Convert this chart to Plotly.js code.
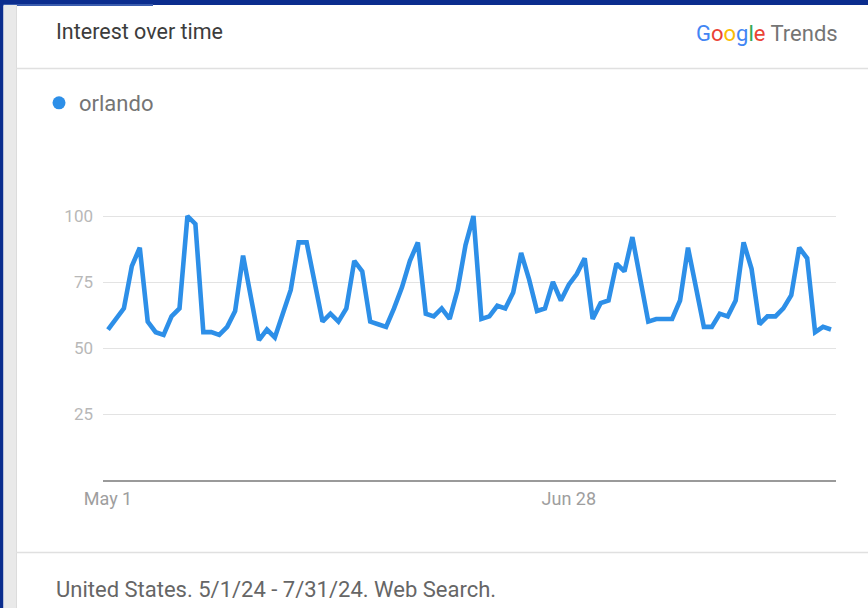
<!DOCTYPE html>
<html><head><meta charset="utf-8">
<script src="https://cdn.plot.ly/plotly-3.0.1.min.js"></script>
<style>html,body{margin:0;padding:0;background:#fff;overflow:hidden}#chart{width:868px;height:608px}</style>
</head><body><div id="chart"></div>
<script>
// ---- data ----
const seriesName = 'orlando';
const interest = [57,61,65,81,88,60,56,55,62,65,100,97,56,56,55,58,64,85,69,53,57,54,63,72,90,90,75,60,63,60,65,83,79,60,59,58,65,73,83,90,63,62,65,61,72,89,100,61,62,66,65,71,86,76,64,65,75,68,74,78,84,61,67,68,82,79,92,76,60,61,61,61,68,88,73,58,58,63,62,68,90,80,59,62,62,65,70,88,84,56,58,57];
const yTickVals = [25, 50, 75, 100];
const xTickVals = ['2024-05-01', '2024-06-28'];
const xTickText = ['May 1', 'Jun 28'];
const titleText = 'Interest over time';
const footerText = 'United States. 5/1/24 - 7/31/24. Web Search.';

// daily dates starting May 1, 2024
const dates = interest.map((_, i) => new Date(Date.UTC(2024, 4, 1 + i)).toISOString().slice(0, 10));

// ---- geometry helpers (pixel -> paper fraction) ----
const L = 103, R = 836, T = 211, B = 480, W = 868, H = 608;
const fx = px => (px - L) / (R - L);
const fy = py => (B - py) / (B - T);
const FONT = 'Roboto, Arial, sans-serif';

function rect(x0, y0, x1, y1, color) {
  return {type: 'rect', xref: 'paper', yref: 'paper', x0: fx(x0), x1: fx(x1), y0: fy(y0), y1: fy(y1),
    fillcolor: color, line: {width: 0}, layer: 'above'};
}
function hline(x0, x1, y, color, w) {
  return {type: 'line', xref: 'paper', yref: 'paper', x0: fx(x0), x1: fx(x1), y0: fy(y), y1: fy(y),
    line: {color: color, width: w}, layer: 'above'};
}
function vline(x, y0, y1, color, w) {
  return {type: 'line', xref: 'paper', yref: 'paper', x0: fx(x), x1: fx(x), y0: fy(y0), y1: fy(y1),
    line: {color: color, width: w}, layer: 'above'};
}

const traces = [
  {x: dates, y: interest, type: 'scatter', mode: 'lines', name: seriesName, showlegend: false,
   line: {color: '#2d8fe8', width: 4.6, shape: 'linear'}, hoverinfo: 'x+y'},
  {x: [null], y: [null], type: 'scatter', mode: 'markers', name: seriesName, showlegend: true,
   marker: {color: '#2d8fe8', size: 13, symbol: 'circle'}}
];

const layout = {
  width: W, height: H,
  margin: {l: L, r: W - R, t: T, b: H - B, pad: 0},
  paper_bgcolor: '#ffffff', plot_bgcolor: '#ffffff',
  font: {family: FONT, color: '#757575'},
  showlegend: true,
  legend: {orientation: 'h', xref: 'paper', yref: 'paper', x: fx(39), y: fy(103), xanchor: 'left', yanchor: 'middle',
    font: {size: 22, color: '#757575', family: FONT}, bgcolor: 'rgba(0,0,0,0)', itemclick: false},
  xaxis: {type: 'date', range: ['2024-04-30 08:54', '2024-07-31 15:06'],
    showgrid: false, zeroline: false, showline: true, linecolor: '#9a9a9a', linewidth: 2,
    tickmode: 'array', tickvals: xTickVals, ticktext: xTickText,
    ticks: 'outside', ticklen: 1, tickcolor: 'rgba(0,0,0,0)',
    tickfont: {size: 18, color: '#9e9e9e', family: FONT}, fixedrange: true},
  yaxis: {range: [0, 101.9], tickmode: 'array', tickvals: yTickVals,
    showgrid: true, gridcolor: '#e3e3e3', gridwidth: 1, zeroline: false, showline: false,
    ticks: '', ticklabelstandoff: 9,
    tickfont: {size: 17, color: '#b8b8b8', family: FONT}, fixedrange: true},
  shapes: [
    rect(0, 0, W, 5, '#0b2d8e'),
    rect(0, 4, 153, 6, '#3a5cae'),
    rect(0, 0, 3.5, H, '#0b2d8e'),
    rect(3.5, 5, 16, H, '#e9e9e9'),
    vline(16.5, 5, H, '#dcdcdc', 1),
    hline(16, W, 68.5, '#e0e0e0', 1.5),
    hline(16, W, 552.5, '#e0e0e0', 1.5)
  ],
  annotations: [
    {xref: 'paper', yref: 'paper', x: fx(54), y: fy(31), xanchor: 'left', yanchor: 'middle', showarrow: false,
     text: titleText, font: {size: 21.5, color: '#3c3c3c', family: FONT}},
    {xref: 'paper', yref: 'paper', x: fx(840), y: fy(33), xanchor: 'right', yanchor: 'middle', showarrow: false,
     text: '<span style="color:#4285f4">G</span><span style="color:#ea4335">o</span><span style="color:#fbbc05">o</span><span style="color:#4285f4">g</span><span style="color:#34a853">l</span><span style="color:#ea4335">e</span> <span style="color:#757575">Trends</span>',
     font: {size: 22, color: '#757575', family: FONT}},
    {xref: 'paper', yref: 'paper', x: fx(54), y: fy(589), xanchor: 'left', yanchor: 'middle', showarrow: false,
     text: footerText, font: {size: 22, color: '#666666', family: FONT}}
  ],
  hovermode: 'closest'
};

Plotly.newPlot('chart', traces, layout, {displayModeBar: false, staticPlot: false, responsive: false});
</script>
</body></html>
